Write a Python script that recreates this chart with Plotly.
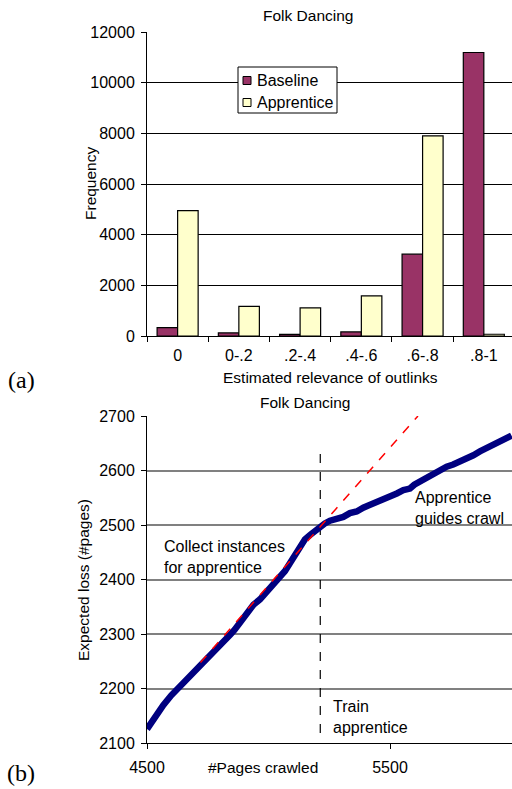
import plotly.graph_objects as go

# ---- (a) histogram of estimated outlink relevance ----
categories = ["0", "0-.2", ".2-.4", ".4-.6", ".6-.8", ".8-1"]
series_names = ["Baseline", "Apprentice"]
baseline = [330, 120, 65, 160, 3230, 11190]
apprentice = [4950, 1170, 1110, 1580, 7900, 70]

# ---- (b) expected loss vs pages crawled ----
pages = [4500, 4530, 4567, 4600, 4622, 4650, 4677, 4710, 4746, 4775, 4800, 4842,
         4860, 4883, 4910, 4938, 4965, 4993, 5020, 5047, 5068, 5088, 5110, 5130,
         5150, 5171, 5190, 5212, 5232, 5253, 5280, 5308, 5335, 5363, 5390, 5418,
         5445, 5472, 5500, 5528, 5555, 5582, 5600, 5623, 5650, 5678, 5705, 5733,
         5760, 5788, 5815, 5843, 5870, 5898, 5925, 5953, 5975, 6000]
loss = [2126, 2148, 2170, 2188, 2198, 2208, 2222, 2238, 2253, 2268, 2280, 2299,
        2308, 2323, 2337, 2354, 2364, 2378, 2392, 2402, 2416, 2430, 2447, 2460,
        2474, 2482, 2489, 2498, 2503, 2508, 2510, 2515, 2522, 2525, 2532, 2537,
        2541, 2546, 2553, 2558, 2564, 2567, 2574, 2580, 2588, 2595, 2601, 2607,
        2611, 2616, 2622, 2628, 2635, 2641, 2647, 2653, 2657, 2664]
trend_x = [4720, 5615]
trend_y = [2248, 2700]
train_x = [5213, 5213]
train_y = [2119, 2635]

W, H = 512, 789
FONT = "Liberation Sans, Arial, sans-serif"
SERIF = "Liberation Serif, DejaVu Serif, serif"
BAR_COLORS = ["#993366", "#FFFFCC"]


def px(x):
    return x / W


def py(y):
    return 1 - y / H


fig = go.Figure()

for name, vals, col in zip(series_names, [baseline, apprentice], BAR_COLORS):
    fig.add_trace(go.Bar(x=categories, y=vals, name=name, showlegend=False,
                         marker=dict(color=col, line=dict(color="black", width=1.2)),
                         xaxis="x", yaxis="y"))

fig.add_trace(go.Scatter(x=train_x, y=train_y, mode="lines", showlegend=False,
                         line=dict(color="black", width=1.2, dash="dash"),
                         xaxis="x2", yaxis="y2"))
fig.add_trace(go.Scatter(x=pages, y=loss, mode="lines", showlegend=False,
                         line=dict(color="#000080", width=6.5),
                         xaxis="x2", yaxis="y2"))
# red trend on top so it shows over the thick curve
fig.add_trace(go.Scatter(x=trend_x, y=trend_y, mode="lines", showlegend=False,
                         line=dict(color="#FF0000", width=1.5, dash="dash"),
                         xaxis="x2", yaxis="y2"))

axis_common = dict(showline=True, linecolor="black", linewidth=1,
                   ticks="outside", tickcolor="black", ticklen=5,
                   tickfont=dict(family=FONT, size=16, color="black"),
                   zeroline=False, automargin=False)

fig.update_layout(
    template="none",
    width=W, height=H, autosize=False,
    margin=dict(l=0, r=0, t=0, b=0, pad=0),
    paper_bgcolor="white", plot_bgcolor="white",
    font=dict(family=FONT, size=16, color="black"),
    showlegend=False,
    barmode="group", bargap=0.33, bargroupgap=0,
    xaxis=dict(domain=[px(147), 1], anchor="y", type="category",
               range=[-0.5, 5.46], tickson="boundaries", showgrid=False,
               ticklabelstandoff=5, **axis_common),
    yaxis=dict(domain=[py(336), py(32)], anchor="x", range=[0, 12000],
               dtick=2000, tickformat="d", showgrid=True, gridcolor="black",
               gridwidth=1, ticklabelstandoff=3, **axis_common),
    xaxis2=dict(domain=[px(147), 1], anchor="y2", range=[4500, 6002],
                tickvals=[4500, 5500], tickformat="d", showgrid=False,
                ticklabelstandoff=4, **axis_common),
    yaxis2=dict(domain=[py(743.3), py(416)], anchor="x2", range=[2100, 2700],
                dtick=100, tickformat="d", showgrid=True, gridcolor="#808080",
                gridwidth=1.5, ticklabelstandoff=3, **axis_common),
)

# legend box for the histogram
fig.add_shape(type="rect", xref="paper", yref="paper",
              x0=px(238), x1=px(337), y0=py(113), y1=py(67),
              line=dict(color="black", width=1), fillcolor="white", layer="above")
for i, (name, col) in enumerate(zip(series_names, BAR_COLORS)):
    cy = 80.5 + i * 22
    fig.add_shape(type="rect", xref="paper", yref="paper",
                  x0=px(243), x1=px(251), y0=py(cy + 4), y1=py(cy - 4),
                  line=dict(color="black", width=1), fillcolor=col, layer="above")
    fig.add_annotation(text=name, x=px(255), y=py(cy), xref="paper", yref="paper",
                       showarrow=False, xanchor="left", yanchor="middle",
                       font=dict(family=FONT, size=16, color="black"))


def label(text, x, y, size=16, family=FONT, angle=0, xanchor="center", align="center"):
    fig.add_annotation(text=text, x=px(x), y=py(y), xref="paper", yref="paper",
                       showarrow=False, textangle=angle, xanchor=xanchor,
                       yanchor="middle", align=align,
                       font=dict(family=family, size=size, color="black"))


label("Folk Dancing", 308, 15, size=15.5)
label("Frequency", 90, 184, size=15.5, angle=-90)
label("Estimated relevance of outlinks", 330, 377, size=15.5)
label("(a)", 21, 380, size=24, family=SERIF)

label("Folk Dancing", 305, 402, size=15.5)
label("Expected loss (#pages)", 83, 580, size=15.5, angle=-90)
label("#Pages crawled", 263, 767, size=15.5)
label("Collect instances<br>for apprentice", 162, 557, xanchor="left", align="left")
label("Apprentice<br>guides crawl", 413, 507.5, xanchor="left", align="left")
label("Train<br>apprentice", 331, 717, xanchor="left", align="left")
label("(b)", 21, 773, size=24, family=SERIF)

fig.write_html("out.html")
